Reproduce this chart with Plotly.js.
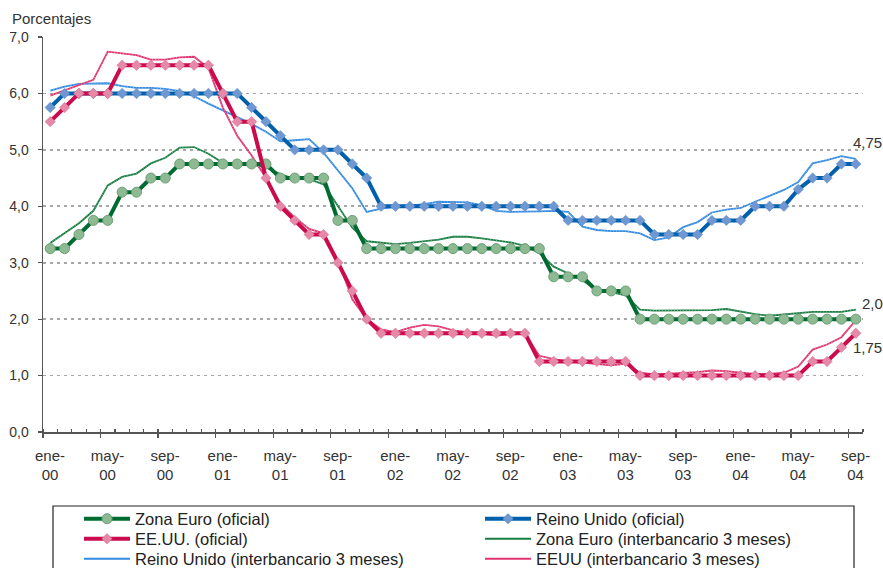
<!DOCTYPE html>
<html><head><meta charset="utf-8">
<script src="https://cdn.plot.ly/plotly-3.0.1.min.js"></script>
<style>html,body{margin:0;padding:0;background:#fff}#chart{width:883px;height:568px}</style>
</head><body><div id="chart"></div>
<script>
const monthNames = ['ene','feb','mar','abr','may','jun','jul','ago','sep','oct','nov','dic'];
const years = ['00','01','02','03','04'];
const categories = [];
years.forEach(y => monthNames.forEach(m => categories.push(m + '-' + y)));
categories.length = 57; // ene-00 ... sep-04

const tickCategories = ['ene-00','may-00','sep-00','ene-01','may-01','sep-01','ene-02','may-02','sep-02','ene-03','may-03','sep-03','ene-04','may-04','sep-04'];
const tickLabels = ['ene-<br>00','may-<br>00','sep-<br>00','ene-<br>01','may-<br>01','sep-<br>01','ene-<br>02','may-<br>02','sep-<br>02','ene-<br>03','may-<br>03','sep-<br>03','ene-<br>04','may-<br>04','sep-<br>04'];

const zonaEuroOficial = [3.25,3.25,3.5,3.75,3.75,4.25,4.25,4.5,4.5,4.75,4.75,4.75,4.75,4.75,4.75,4.75,4.5,4.5,4.5,4.5,3.75,3.75,3.25,3.25,3.25,3.25,3.25,3.25,3.25,3.25,3.25,3.25,3.25,3.25,3.25,2.75,2.75,2.75,2.5,2.5,2.5,2.0,2.0,2.0,2.0,2.0,2.0,2.0,2.0,2.0,2.0,2.0,2.0,2.0,2.0,2.0,2.0];
const reinoUnidoOficial = [5.75,6.0,6.0,6.0,6.0,6.0,6.0,6.0,6.0,6.0,6.0,6.0,6.0,6.0,5.75,5.5,5.25,5.0,5.0,5.0,5.0,4.75,4.5,4.0,4.0,4.0,4.0,4.0,4.0,4.0,4.0,4.0,4.0,4.0,4.0,4.0,3.75,3.75,3.75,3.75,3.75,3.75,3.5,3.5,3.5,3.5,3.75,3.75,3.75,4.0,4.0,4.0,4.3,4.5,4.5,4.75,4.75];
const eeuuOficial = [5.5,5.75,6.0,6.0,6.0,6.5,6.5,6.5,6.5,6.5,6.5,6.5,6.0,5.5,5.5,4.5,4.0,3.75,3.5,3.5,3.0,2.5,2.0,1.75,1.75,1.75,1.75,1.75,1.75,1.75,1.75,1.75,1.75,1.75,1.25,1.25,1.25,1.25,1.25,1.25,1.25,1.0,1.0,1.0,1.0,1.0,1.0,1.0,1.0,1.0,1.0,1.0,1.0,1.25,1.25,1.5,1.75];
const zonaEuroInter = [3.35,3.53,3.7,3.92,4.37,4.52,4.58,4.76,4.86,5.04,5.05,4.93,4.77,4.76,4.74,4.69,4.57,4.48,4.48,4.39,4.0,3.62,3.38,3.35,3.33,3.35,3.38,3.41,3.46,3.46,3.43,3.39,3.36,3.3,3.17,2.93,2.81,2.69,2.51,2.48,2.42,2.17,2.15,2.15,2.15,2.15,2.16,2.18,2.13,2.09,2.06,2.08,2.11,2.13,2.13,2.13,2.17];
const reinoUnidoInter = [6.05,6.12,6.17,6.18,6.18,6.13,6.1,6.1,6.08,6.04,5.95,5.82,5.7,5.57,5.46,5.32,5.15,5.17,5.19,4.95,4.64,4.32,3.9,3.96,3.99,4.01,4.04,4.08,4.08,4.07,4.02,3.92,3.9,3.9,3.91,3.92,3.9,3.64,3.58,3.56,3.56,3.52,3.4,3.45,3.63,3.72,3.89,3.94,3.97,4.08,4.19,4.29,4.43,4.76,4.82,4.89,4.84];
const eeuuInter = [5.96,6.05,6.15,6.24,6.74,6.71,6.68,6.6,6.6,6.64,6.65,6.45,5.75,5.25,4.9,4.5,4.05,3.8,3.6,3.52,3.05,2.35,2.0,1.82,1.77,1.85,1.9,1.87,1.8,1.77,1.74,1.71,1.73,1.74,1.35,1.29,1.25,1.23,1.2,1.18,1.21,1.05,1.02,1.03,1.04,1.06,1.09,1.08,1.05,1.03,1.03,1.05,1.16,1.46,1.55,1.68,1.98];

const endLabels = ['4,75', '2,0', '1,75'];

const xIdx = categories.map((c, i) => i);
const FONT = 'Liberation Sans, Arial, Helvetica, sans-serif';

function interTrace(name, y, color, legendId) {
  return [{
    x: xIdx, y: y, name: name, type: 'scatter', mode: 'lines', legend: legendId,
    line: {color: color, width: 1.8}, hoverinfo: 'skip'
  }, {
    x: xIdx, y: y, name: name, type: 'scatter', mode: 'lines', showlegend: false,
    line: {color: 'rgba(255,255,255,0.6)', width: 0.7, dash: '1px,2px'}, hoverinfo: 'skip'
  }];
}

const traces = [].concat(
  interTrace('Zona Euro (interbancario 3 meses)', zonaEuroInter, '#177d40', 'legend4'),
  interTrace('Reino Unido (interbancario 3 meses)', reinoUnidoInter, '#318ae0', 'legend5'),
  interTrace('EEUU (interbancario 3 meses)', eeuuInter, '#e0336f', 'legend6'),
  [{
    x: xIdx, y: zonaEuroOficial, name: 'Zona Euro (oficial)', type: 'scatter', mode: 'lines+markers',
    line: {color: '#006b30', width: 4}, legend: 'legend',
    marker: {symbol: 'circle', size: 10, color: '#8dba92', line: {color: '#6e9f78', width: 1}}
  }, {
    x: xIdx, y: reinoUnidoOficial, name: 'Reino Unido (oficial)', type: 'scatter', mode: 'lines+markers',
    line: {color: '#0060ac', width: 4}, legend: 'legend2',
    marker: {symbol: 'diamond', size: 8, color: '#6f98d2', line: {color: '#5a88c8', width: 0.5}}
  }, {
    x: xIdx, y: eeuuOficial, name: 'EE.UU. (oficial)', type: 'scatter', mode: 'lines+markers',
    line: {color: '#cc0a4e', width: 4}, legend: 'legend3',
    marker: {symbol: 'diamond', size: 8, color: '#e58aa6', line: {color: '#d86a8c', width: 0.5}}
  }]
);

const boundaries = categories.map((c, i) => i - 0.5).concat([categories.length - 0.5]);
const majorTicks = tickCategories.map(c => categories.indexOf(c) - 0.5);

function legendAt(px, py) {
  return {
    orientation: 'v', x: (px - 43) / 820, xanchor: 'left', y: (432 - py) / 395, yanchor: 'middle',
    bgcolor: 'rgba(0,0,0,0)', borderwidth: 0, itemwidth: 46,
    font: {family: FONT, size: 16.5, color: '#222'}
  };
}
const col1 = 79, col2 = 480, rows = [519, 539, 559];

const layout = {
  width: 883, height: 568,
  margin: {l: 43, r: 20, t: 37, b: 136, autoexpand: false},
  paper_bgcolor: '#fff', plot_bgcolor: '#fff',
  font: {family: FONT, size: 15, color: '#333'},
  separators: ',.',
  showlegend: true,
  xaxis: {
    range: [-0.5, categories.length - 0.5],
    tickmode: 'array', tickvals: majorTicks, ticktext: tickLabels,
    ticklabelshift: 7, ticklabelstandoff: 5,
    ticks: 'outside', ticklen: 4, tickwidth: 1.2, tickcolor: '#555',
    tickfont: {family: FONT, size: 15, color: '#333'},
    minor: {tickmode: 'array', tickvals: boundaries, ticks: 'inside', ticklen: 3, tickwidth: 1.2, tickcolor: '#555', showgrid: false},
    showgrid: false, zeroline: false, automargin: false,
    showline: true, linecolor: '#555', linewidth: 1.5, fixedrange: true
  },
  yaxis: {
    range: [0, 7], tickmode: 'linear', tick0: 0, dtick: 1, tickformat: '.1f',
    ticks: 'outside', ticklen: 4, tickwidth: 1.2, tickcolor: '#555',
    tickfont: {family: FONT, size: 14, color: '#333'},
    ticklabelstandoff: 6, automargin: false,
    showgrid: true, gridcolor: '#a6a6a6', gridwidth: 1.6, griddash: '3px,4px',
    zeroline: false, showline: true, linecolor: '#555', linewidth: 1.5, fixedrange: true
  },
  legend: legendAt(col1, rows[0]),
  legend2: legendAt(col2, rows[0]),
  legend3: legendAt(col1, rows[1]),
  legend4: legendAt(col2, rows[1]),
  legend5: legendAt(col1, rows[2]),
  legend6: legendAt(col2, rows[2]),
  shapes: [{
    type: 'rect', xref: 'paper', yref: 'paper',
    x0: (53 - 43) / 820, x1: (854 - 43) / 820, y0: (432 - 506) / 395, y1: (432 - 600) / 395,
    line: {color: '#222', width: 1.2}, fillcolor: 'rgba(0,0,0,0)'
  }],
  annotations: [
    {text: 'Porcentajes', xref: 'paper', yref: 'paper', x: (10 - 43) / 820, y: (432 - 19) / 395,
     xanchor: 'left', yanchor: 'middle', showarrow: false, font: {family: FONT, size: 15, color: '#333'}},
    {text: endLabels[0], xref: 'paper', yref: 'paper', x: (851 - 43) / 820, y: (432 - 142) / 395,
     xanchor: 'left', yanchor: 'middle', showarrow: false, font: {family: FONT, size: 15, color: '#333'}},
    {text: endLabels[1], xref: 'paper', yref: 'paper', x: (860 - 43) / 820, y: (432 - 303) / 395,
     xanchor: 'left', yanchor: 'middle', showarrow: false, font: {family: FONT, size: 15, color: '#333'}},
    {text: endLabels[2], xref: 'paper', yref: 'paper', x: (851 - 43) / 820, y: (432 - 347) / 395,
     xanchor: 'left', yanchor: 'middle', showarrow: false, font: {family: FONT, size: 15, color: '#333'}}
  ]
};

Plotly.newPlot('chart', traces, layout, {staticPlot: true, displayModeBar: false});
</script>
</body></html>
